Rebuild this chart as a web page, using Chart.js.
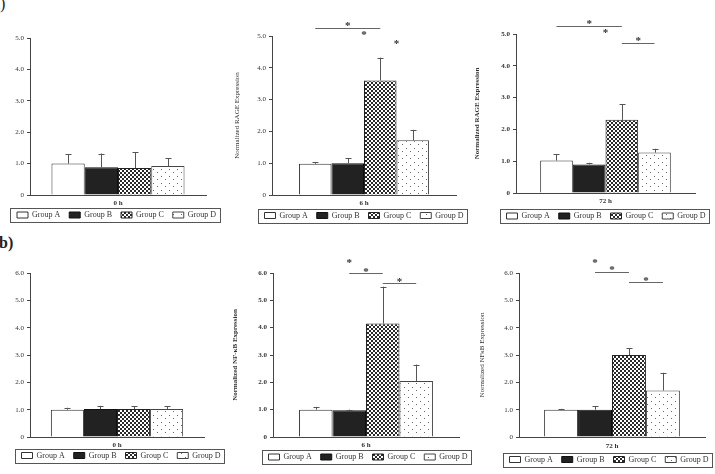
<!DOCTYPE html>
<html>
<head>
<meta charset="utf-8">
<script src="https://cdn.jsdelivr.net/npm/chart.js@4.4.1/dist/chart.umd.min.js"></script>
<style>
  html, body { margin: 0; padding: 0; background: #fff; overflow: hidden; }
  #fig { position: relative; width: 715px; height: 474px; overflow: hidden; }
  #fig canvas { position: absolute; }
  .tag { position: absolute; font-family: "Liberation Serif", serif; font-size: 16px; color: #222; }
</style>
</head>
<body>
<div id="fig">
  <div class="tag" style="left:-7px;top:-5px">a)</div>
  <div class="tag" style="left:-1px;top:234px;font-weight:bold">b)</div>
  <canvas id="c1" width="233" height="232"></canvas>
  <canvas id="c2" width="270" height="232"></canvas>
  <canvas id="c3" width="274" height="232"></canvas>
  <canvas id="c4" width="242" height="242"></canvas>
  <canvas id="c5" width="282" height="242"></canvas>
  <canvas id="c6" width="270" height="242"></canvas>
</div>
<script>
// ---------- data ----------
const groups = ["Group A", "Group B", "Group C", "Group D"];
const ragTicks = ["0", "1.0", "2.0", "3.0", "4.0", "5.0"];
const nfkbTicks = ["0", "1.0", "2.0", "3.0", "4.0", "5.0", "6.0"];

const rage0h = [1.0, 0.88, 0.86, 0.92];
const rage0hErr = [0.30, 0.44, 0.51, 0.25];
const rage6h = [0.98, 1.0, 3.6, 1.72];
const rage6hErr = [0.06, 0.15, 0.72, 0.33];
const rage72h = [1.02, 0.9, 2.3, 1.27];
const rage72hErr = [0.2, 0.05, 0.5, 0.12];

const nfkb0h = [1.0, 1.02, 1.02, 1.02];
const nfkb0hErr = [0.07, 0.12, 0.1, 0.1];
const nfkb6h = [1.0, 0.98, 4.15, 2.05];
const nfkb6hErr = [0.1, 0.02, 1.35, 0.6];
const nfkb72h = [1.0, 1.0, 3.0, 1.7];
const nfkb72hErr = [0.03, 0.13, 0.25, 0.65];

// significance: brackets [fromGroup, toGroup, value], stars [groupPos, value]
const rage6hLines = [[0, 2, 5.25]];
const rage6hStars = [[1, 5.37], [1.5, 5.1], [2.5, 4.82]];
const rage72hLines = [[0, 2, 5.25], [2, 3, 4.72]];
const rage72hStars = [[1, 5.37], [1.5, 5.08], [2.5, 4.85]];
const nfkb6hLines = [[1, 2, 6.0], [2, 3, 5.63]];
const nfkb6hStars = [[1, 6.42], [1.5, 6.12], [2.5, 5.75]];
const nfkb72hLines = [[1, 2, 6.04], [2, 3, 5.67]];
const nfkb72hStars = [[1, 6.45], [1.5, 6.16], [2.5, 5.79]];

const FONT = "Liberation Serif";

// ---------- patterns ----------
function checker(ctx) {
  const c = document.createElement("canvas");
  c.width = 4; c.height = 4;
  const g = c.getContext("2d");
  g.fillStyle = "#fff"; g.fillRect(0, 0, 4, 4);
  g.fillStyle = "#2a2a2a"; g.fillRect(0, 0, 2, 2); g.fillRect(2, 2, 2, 2);
  return ctx.createPattern(c, "repeat");
}
function dots(ctx) {
  const c = document.createElement("canvas");
  c.width = 8; c.height = 7;
  const g = c.getContext("2d");
  g.fillStyle = "#fff"; g.fillRect(0, 0, 8, 7);
  g.fillStyle = "#666"; g.fillRect(1, 1, 1, 1); g.fillRect(5, 4, 1, 1);
  return ctx.createPattern(c, "repeat");
}

// ---------- plugins ----------
const errorBars = {
  id: "errorBars",
  afterDatasetsDraw(chart, args, opts) {
    const { ctx } = chart;
    const y = chart.scales.y;
    ctx.save();
    ctx.strokeStyle = "#555";
    ctx.lineWidth = 1;
    chart.data.datasets.forEach((ds, i) => {
      const bar = chart.getDatasetMeta(i).data[0];
      const top = y.getPixelForValue(ds.data[0] + opts.err[i]);
      const x = Math.round(bar.x) + 0.5;
      ctx.beginPath();
      ctx.moveTo(x, bar.y);
      ctx.lineTo(x, top);
      ctx.moveTo(x - 3, Math.round(top) + 0.5);
      ctx.lineTo(x + 3, Math.round(top) + 0.5);
      ctx.stroke();
    });
    ctx.restore();
  }
};

const signif = {
  id: "signif",
  afterDraw(chart, args, opts) {
    if (!opts.lines) return;
    const { ctx } = chart;
    const y = chart.scales.y;
    const cx = pos => {
      const a = chart.getDatasetMeta(Math.floor(pos)).data[0].x;
      const b = chart.getDatasetMeta(Math.ceil(pos)).data[0].x;
      return a + (b - a) * (pos - Math.floor(pos));
    };
    ctx.save();
    ctx.strokeStyle = "#666";
    ctx.lineWidth = 1;
    opts.lines.forEach(([f, t, v]) => {
      const py = Math.round(y.getPixelForValue(v)) + 0.5;
      ctx.beginPath();
      ctx.moveTo(cx(f), py);
      ctx.lineTo(cx(t), py);
      ctx.stroke();
    });
    ctx.fillStyle = "#333";
    ctx.font = "bold 11px " + FONT;
    ctx.textAlign = "center";
    ctx.textBaseline = "middle";
    opts.stars.forEach(([p, v]) => {
      ctx.fillText("*", cx(p), y.getPixelForValue(v) + 2);
    });
    ctx.restore();
  }
};

const legendFrame = {
  id: "legendFrame",
  afterDraw(chart) {
    const boxes = chart.legend && chart.legend.legendHitBoxes;
    if (!boxes || !boxes.length) return;
    const last = boxes[boxes.length - 1];
    const l = Math.round(boxes[0].left - 7) + 0.5;
    const r = Math.round(last.left + last.width + 4) + 0.5;
    const t = Math.round(boxes[0].top - 3) + 0.5;
    const b = Math.round(boxes[0].top + boxes[0].height + 3) + 0.5;
    const { ctx } = chart;
    ctx.save();
    ctx.strokeStyle = "#555";
    ctx.lineWidth = 1;
    ctx.strokeRect(l, t, r - l, b - t);
    ctx.restore();
  }
};

// ---------- chart builder ----------
function makeChart(p, label, values, errs, ticks, title, lines, stars) {
  const el = document.getElementById(p.id);
  el.style.left = p.left + "px";
  el.style.top = p.top + "px";
  const ctx = el.getContext("2d");
  const fills = ["#ffffff", "#222222", checker(ctx), dots(ctx)];
  const edges = ["#333", "#111", "#222", "#444"];
  return new Chart(ctx, {
    type: "bar",
    data: {
      labels: [label],
      datasets: groups.map((g, i) => ({
        label: g,
        data: [values[i]],
        backgroundColor: fills[i],
        borderColor: edges[i],
        borderWidth: 1,
        categoryPercentage: p.cat,
        barPercentage: 1
      }))
    },
    options: {
      responsive: false,
      animation: false,
      layout: { padding: { top: p.padTop, bottom: p.padBottom, left: 0, right: 0 } },
      plugins: {
        legend: {
          position: "bottom",
          labels: { boxWidth: 11, boxHeight: 6, padding: 9, color: "#333", font: { family: FONT, size: 8 } }
        },
        tooltip: { enabled: false },
        errorBars: { err: errs },
        signif: { lines: lines, stars: stars }
      },
      scales: {
        x: {
          grid: { display: false, drawTicks: false },
          border: { display: true, color: "#444" },
          // mirrored so the label is not clipped by the slim axis box
          ticks: { mirror: true, color: "#333", padding: -p.xLab, font: { family: FONT, size: 7, weight: "bold" } },
          afterFit: s => { s.height = p.xH; }
        },
        y: {
          min: 0,
          max: ticks.length - 1,
          ticks: {
            stepSize: 1,
            padding: 3,
            color: "#333",
            font: { family: FONT, size: 7, weight: p.bold ? "bold" : "normal" },
            callback: (v, i) => ticks[i]
          },
          grid: { drawOnChartArea: false, drawTicks: true, tickLength: 3, color: "#444" },
          border: { display: true, color: "#444" },
          title: {
            display: !!title,
            text: title,
            color: "#333",
            padding: { top: 4, bottom: 2 },
            font: { family: FONT, size: 7, weight: p.bold ? "bold" : "normal" }
          },
          afterFit: s => { s.width = p.yW; }
        },
        yr: {
          position: "right",
          grid: { display: false, drawTicks: false },
          border: { display: false },
          ticks: { display: false },
          afterFit: s => { s.width = p.rW; }
        }
      }
    },
    plugins: [errorBars, signif, legendFrame]
  });
}

// ---------- layout of the six panels ----------
const P1 = { id: "c1", left: 0, top: 0, padTop: 38, padBottom: 3, yW: 30, rW: 27, xH: 7, xLab: 12.2, cat: 0.756 };
const P2 = { id: "c2", left: 229, top: 0, padTop: 36, padBottom: 2.5, yW: 43, rW: 43, xH: 7.5, xLab: 12.2, cat: 0.707 };
const P3 = { id: "c3", left: 469, top: 0, padTop: 34, padBottom: 2, yW: 47, rW: 48, xH: 10, xLab: 12.2, cat: 0.73, bold: true };
const P4 = { id: "c4", left: 0, top: 232, padTop: 41, padBottom: 4.5, yW: 30, rW: 38, xH: 5.5, xLab: 12.2, cat: 0.76 };
const P5 = { id: "c5", left: 227, top: 232, padTop: 41, padBottom: 3, yW: 46, rW: 50, xH: 7, xLab: 12.2, cat: 0.72, bold: true };
const P6 = { id: "c6", left: 474, top: 232, padTop: 41, padBottom: 0.5, yW: 45, rW: 39, xH: 9.5, xLab: 13.2, cat: 0.73 };

makeChart(P1, "0 h", rage0h, rage0hErr, ragTicks, "", null, null);
makeChart(P2, "6 h", rage6h, rage6hErr, ragTicks, "Normalized RAGE Expression", rage6hLines, rage6hStars);
makeChart(P3, "72 h", rage72h, rage72hErr, ragTicks, "Normalized RAGE Expression", rage72hLines, rage72hStars);
makeChart(P4, "0 h", nfkb0h, nfkb0hErr, nfkbTicks, "", null, null);
makeChart(P5, "6 h", nfkb6h, nfkb6hErr, nfkbTicks, "Normalized NF-κB Expression", nfkb6hLines, nfkb6hStars);
makeChart(P6, "72 h", nfkb72h, nfkb72hErr, nfkbTicks, "Normalized NFκB Expression", nfkb72hLines, nfkb72hStars);
</script>
</body>
</html>
